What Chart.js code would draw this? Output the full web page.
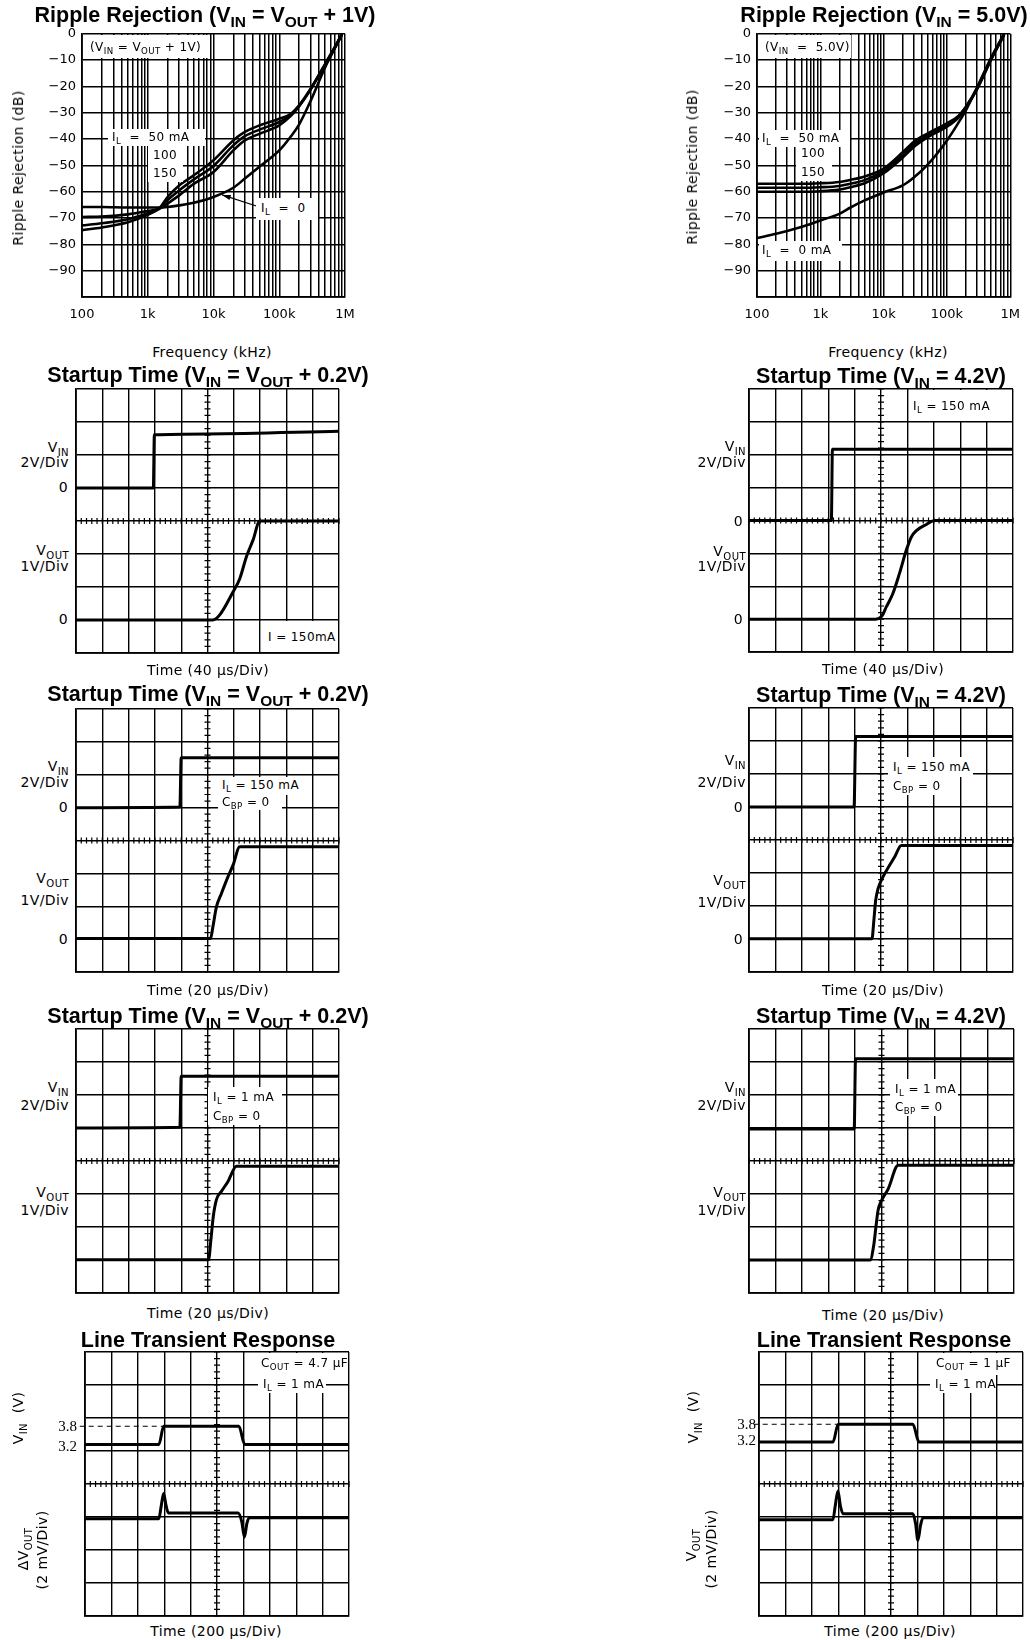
<!DOCTYPE html>
<html>
<head>
<meta charset="utf-8">
<script src="https://cdn.jsdelivr.net/npm/chart.js@4.4.0/dist/chart.umd.min.js"></script>
<style>
  html, body { margin: 0; padding: 0; background: #fff; }
  #page { position: relative; width: 1030px; height: 1640px; overflow: hidden; background: #fff; }
  canvas { position: absolute; }
  .t { position: absolute; white-space: pre; color: #000; line-height: 1; }
  .title { font: bold 21.5px "Liberation Sans", Arial, sans-serif; }
  .lbl { font: 14px "DejaVu Sans", sans-serif; letter-spacing: 0.4px; }
  .note { font: 12px "DejaVu Sans", sans-serif; letter-spacing: 0.4px; }
  .num { font: 15px "Liberation Serif", serif; }
  .wb { position: absolute; background: #fff; }
  sub { font-size: 72%; vertical-align: -0.35em; line-height: 0; }
</style>
</head>
<body>
<div id="page"></div>
<script>
// ripple rejection, V_IN = V_OUT + 1V  (dB vs Hz)
const rr1Freq = [100, 200, 500, 1000, 1500, 2000, 3000, 5000, 10000, 20000, 30000, 50000, 100000, 150000, 200000, 300000, 500000, 700000, 900000];
const rr1IL0 = [-65.8, -65.8, -66, -66, -66, -65.8, -65.2, -64.2, -62, -58.5, -55, -50.5, -44.3, -39, -34.5, -25.5, -12.7, -5.5, 0];
const rr1IL50 = [-69.6, -69.4, -68.6, -67.3, -66.2, -62, -57.6, -53.8, -48, -40.5, -37.3, -34.8, -32.3, -30.4, -27.2, -20.9, -11.4, -5, 0];
const rr1IL100 = [-72.8, -72, -70.5, -68.2, -66.3, -63.2, -59.5, -55.4, -50.2, -42.4, -38.9, -36.4, -33.5, -30.8, -27.4, -21, -11.5, -5.2, -0.2];
const rr1IL150 = [-74.6, -73.6, -71.6, -68.8, -66.5, -64.5, -61.4, -57, -52.5, -44.3, -40.5, -38, -34.8, -31.2, -27.6, -21.2, -11.7, -5.4, -0.4];
const rr1Arrow = [[46000, -65.5], [13500, -61.2]];

// ripple rejection, V_IN = 5.0V
const rr2Freq = [100, 200, 500, 1000, 2000, 3000, 5000, 10000, 20000, 30000, 50000, 100000, 150000, 200000, 300000, 500000, 800000];
const rr2IL0 = [-77.6, -76, -73.4, -70.9, -68.4, -66, -63.3, -60.3, -57.6, -54.6, -49.6, -40.5, -34, -29, -20.3, -9, 0];
const rr2IL50 = [-57, -57, -57, -56.8, -56.3, -55.5, -54.2, -51.2, -45, -41, -37.8, -34, -31.3, -27.6, -20.5, -9.3, 0];
const rr2IL100 = [-58.5, -58.5, -58.5, -58.3, -57.8, -57, -55.6, -52.2, -46, -42, -38.6, -34.7, -31.6, -27.8, -20.8, -9.6, -0.3];
const rr2IL150 = [-60, -60, -60, -59.8, -59.2, -58.3, -56.8, -53, -47, -43, -39.3, -35.3, -32, -28, -21, -9.8, -0.5];

const freqLabelValues = [100, 1000, 10000, 100000, 1000000];
const freqLabels = ['100', '1k', '10k', '100k', '1M'];
const dbTicks = [0, -10, -20, -30, -40, -50, -60, -70, -80, -90, -100];

// scope traces, x and y in screen divisions (10 x 8)
const su1VinT = [0, 2.94, 2.98, 5, 10];
const su1VinV = [5, 5, 6.61, 6.64, 6.72];
const su1VoutT = [0, 5.2, 5.45, 5.97, 6.23, 6.48, 6.73, 6.99, 10];
const su1VoutV = [1, 1, 1.14, 1.85, 2.26, 2.92, 3.42, 4.0, 4.0];

const su2VinT = [0, 3.12, 3.16, 10];
const su2VinV = [4, 4, 6.17, 6.17];
const su2VoutT = [0, 4.8, 5.03, 5.2, 5.45, 5.7, 5.96, 6.15, 6.34, 6.72, 7.03, 10];
const su2VoutV = [1, 1, 1.09, 1.37, 1.78, 2.39, 3.1, 3.5, 3.69, 3.88, 4.0, 4.0];

const su3VinT = [0, 3.95, 4.0, 10];
const su3VinV = [5, 5.02, 6.52, 6.52];
const su3VoutT = [0, 5.12, 5.2, 5.34, 5.53, 5.78, 5.97, 6.23, 10];
const su3VoutV = [1.02, 1.02, 1.35, 1.98, 2.39, 2.9, 3.25, 3.81, 3.81];

const su4VinT = [0, 3.98, 4.04, 10];
const su4VinV = [5, 5, 7.14, 7.14];
const su4VoutT = [0, 4.66, 4.73, 4.8, 4.89, 5.08, 5.33, 5.52, 5.77, 10];
const su4VoutV = [1.01, 1.01, 1.57, 2.18, 2.53, 2.89, 3.24, 3.49, 3.83, 3.83];

const su5VinT = [0, 3.95, 4.0, 10];
const su5VinV = [5, 5.02, 6.57, 6.57];
const su5VoutT = [0, 5.04, 5.13, 5.22, 5.34, 5.53, 5.78, 6.1, 10];
const su5VoutV = [1.01, 1.01, 1.62, 2.32, 2.83, 3.08, 3.38, 3.84, 3.84];

const su6VinT = [0, 3.97, 4.02, 10];
const su6VinV = [4.97, 4.97, 7.1, 7.1];
const su6VoutT = [0, 4.57, 4.71, 4.79, 4.87, 5.0, 5.25, 5.63, 10];
const su6VoutV = [1.0, 1.0, 1.46, 2.0, 2.5, 2.8, 3.15, 3.87, 3.87];

// line transient
const lt1VinT = [0, 2.8, 2.98, 5.83, 6.05, 10];
const lt1VinV = [5.2, 5.2, 5.75, 5.75, 5.2, 5.2];
const lt1VoutT = [0, 2.8, 2.88, 2.98, 3.07, 3.16, 5.8, 5.94, 6.04, 6.13, 6.22, 10];
const lt1VoutV = [2.95, 2.95, 3.3, 3.71, 3.35, 3.12, 3.12, 2.85, 2.39, 2.8, 2.98, 2.98];
const lt1RefT = [-0.2, 2.95];
const lt1RefV = [5.75, 5.75];

const lt2VinT = [0, 2.8, 3.0, 5.83, 6.06, 10];
const lt2VinV = [5.27, 5.27, 5.81, 5.81, 5.27, 5.27];
const lt2VoutT = [0, 2.8, 2.89, 2.99, 3.08, 3.18, 5.83, 5.93, 6.02, 6.12, 6.21, 10];
const lt2VoutV = [2.92, 2.92, 3.35, 3.79, 3.35, 3.1, 3.1, 2.8, 2.29, 2.75, 2.98, 2.98];
const lt2RefT = [-0.2, 2.97];
const lt2RefV = [5.81, 5.81];

const page = document.getElementById('page');

function addCanvas(left, top, w, h) {
  const c = document.createElement('canvas');
  c.width = w; c.height = h;
  c.style.left = left + 'px'; c.style.top = top + 'px';
  c.style.width = w + 'px'; c.style.height = h + 'px';
  page.appendChild(c);
  return c;
}

function text(html, x, y, cls, align) {
  const d = document.createElement('div');
  d.className = 't ' + cls;
  d.innerHTML = html;
  d.style.left = x + 'px';
  d.style.top = y + 'px';
  const tx = align === 'left' ? '0' : align === 'right' ? '-100%' : '-50%';
  d.style.transform = 'translate(' + tx + ',-50%)';
  page.appendChild(d);
  return d;
}

function vtext(html, x, y, cls) {
  const d = text(html, x, y, cls, 'center');
  d.style.transform = 'translate(-50%,-50%) rotate(-90deg)';
  return d;
}

function box(x, y, w, h) {
  const d = document.createElement('div');
  d.className = 'wb';
  d.style.left = x + 'px'; d.style.top = y + 'px';
  d.style.width = w + 'px'; d.style.height = h + 'px';
  page.appendChild(d);
}

const pts = (xs, ys) => xs.map((x, i) => ({ x: x, y: ys[i] }));

const gridFreqs = [];
for (let e = 2; e < 6; e++) {
  for (let m = 1; m < 10; m++) gridFreqs.push(m * Math.pow(10, e));
}
gridFreqs.push(1000000);

const arrowPlugin = {
  id: 'arrow',
  afterDatasetsDraw(chart) {
    const { ctx, scales: { x, y } } = chart;
    const x0 = x.getPixelForValue(rr1Arrow[0][0]), y0 = y.getPixelForValue(rr1Arrow[0][1]);
    const x1 = x.getPixelForValue(rr1Arrow[1][0]), y1 = y.getPixelForValue(rr1Arrow[1][1]);
    const a = Math.atan2(y1 - y0, x1 - x0);
    ctx.save();
    ctx.strokeStyle = '#000'; ctx.fillStyle = '#000'; ctx.lineWidth = 1.2;
    ctx.beginPath(); ctx.moveTo(x0, y0); ctx.lineTo(x1, y1); ctx.stroke();
    ctx.beginPath();
    ctx.moveTo(x1, y1);
    ctx.lineTo(x1 - 9 * Math.cos(a - 0.3), y1 - 9 * Math.sin(a - 0.3));
    ctx.lineTo(x1 - 9 * Math.cos(a + 0.3), y1 - 9 * Math.sin(a + 0.3));
    ctx.closePath(); ctx.fill();
    ctx.restore();
  }
};

function ripple(plot, cb, freq, curves, plugins) {
  const cv = addCanvas(cb.l, cb.t, cb.w, cb.h);
  const yW = plot.l - cb.l;
  const xH = cb.t + cb.h - plot.b;
  return new Chart(cv, {
    type: 'line',
    data: {
      datasets: curves.map(c => ({
        label: c.label,
        data: pts(freq, c.values),
        borderColor: '#000',
        borderWidth: 2.6,
        pointRadius: 0,
        cubicInterpolationMode: 'monotone',
        fill: false
      }))
    },
    options: {
      responsive: false, animation: false, devicePixelRatio: 1, events: [],
      layout: { padding: { top: plot.t - cb.t, right: cb.l + cb.w - plot.r, left: 0, bottom: 0 } },
      plugins: { legend: { display: false }, tooltip: { enabled: false } },
      scales: {
        x: {
          type: 'logarithmic', min: 100, max: 1000000,
          afterBuildTicks: s => { s.ticks = gridFreqs.map(v => ({ value: v })); },
          afterFit: s => { s.height = xH; },
          ticks: {
            autoSkip: false, maxRotation: 0, minRotation: 0, padding: 10, color: '#000',
            font: { family: 'DejaVu Sans', size: 13 },
            callback: v => {
              const i = freqLabelValues.indexOf(Math.round(v));
              return i < 0 ? '' : freqLabels[i];
            }
          },
          grid: { color: '#000', lineWidth: 1.5, drawTicks: false },
          border: { color: '#000', width: 1.8 }
        },
        y: {
          min: -100, max: 0,
          afterBuildTicks: s => { s.ticks = dbTicks.map(v => ({ value: v })); },
          afterFit: s => { s.width = yW; },
          ticks: {
            padding: 6, color: '#000',
            font: { family: 'DejaVu Sans', size: 13 },
            callback: v => v === -100 ? '' : (v === 0 ? '0' : '\u2212' + Math.abs(v))
          },
          grid: { color: '#000', lineWidth: 1.5, drawTicks: false },
          border: { color: '#000', width: 1.8 }
        }
      }
    },
    plugins: plugins || []
  });
}

// little marks along the centre axes of the scope graticule
const centerTicks = {
  id: 'centerTicks',
  beforeDatasetsDraw(chart) {
    const { ctx, scales: { x, y } } = chart;
    const cx = x.getPixelForValue(5), cy = y.getPixelForValue(4);
    ctx.save();
    ctx.strokeStyle = '#000'; ctx.lineWidth = 1.2;
    ctx.beginPath();
    for (let k = 0; k <= 40; k++) {
      const py = y.getPixelForValue(k * 0.2);
      ctx.moveTo(cx - 3, py); ctx.lineTo(cx + 3, py);
    }
    for (let k = 0; k <= 50; k++) {
      const px = x.getPixelForValue(k * 0.2);
      ctx.moveTo(px, cy - 3); ctx.lineTo(px, cy + 3);
    }
    ctx.stroke();
    ctx.restore();
  }
};

function scope(plot, traces, padLeft) {
  const pad = 4, pl = padLeft || 4;
  const cv = addCanvas(plot.l - pl, plot.t - pad, plot.r - plot.l + pl + pad, plot.b - plot.t + 2 * pad);
  return new Chart(cv, {
    type: 'line',
    data: {
      datasets: traces.map(tr => ({
        data: pts(tr.t, tr.v),
        borderColor: '#000',
        borderWidth: tr.dash ? 1 : 3,
        borderDash: tr.dash || [],
        pointRadius: 0,
        cubicInterpolationMode: tr.dash ? 'default' : 'monotone',
        tension: 0,
        clip: tr.dash ? false : 0,
        fill: false
      }))
    },
    options: {
      responsive: false, animation: false, devicePixelRatio: 1, events: [],
      layout: { padding: { top: pad, right: pad, bottom: pad, left: pl } },
      plugins: { legend: { display: false }, tooltip: { enabled: false } },
      scales: {
        x: {
          type: 'linear', min: 0, max: 10,
          ticks: { display: false, stepSize: 1 },
          afterFit: s => { s.height = 0; },
          grid: { color: '#000', lineWidth: 1.4, drawTicks: false },
          border: { color: '#000', width: 1.8 }
        },
        y: {
          min: 0, max: 8,
          ticks: { display: false, stepSize: 1 },
          afterFit: s => { s.width = 0; },
          grid: { color: '#000', lineWidth: 1.4, drawTicks: false },
          border: { color: '#000', width: 1.8 }
        }
      }
    },
    plugins: [centerTicks]
  });
}

// ---------- row 1: ripple rejection ----------
ripple({ l: 82, t: 33, r: 345, b: 297 }, { l: 0, t: 20, w: 365, h: 312 }, rr1Freq, [
  { label: 'IL = 0', values: rr1IL0 },
  { label: 'IL = 50 mA', values: rr1IL50 },
  { label: 'IL = 100 mA', values: rr1IL100 },
  { label: 'IL = 150 mA', values: rr1IL150 }
], [arrowPlugin]);
ripple({ l: 757, t: 33, r: 1021, b: 297 }, { l: 675, t: 20, w: 355, h: 312 }, rr2Freq, [
  { label: 'IL = 0 mA', values: rr2IL0 },
  { label: 'IL = 50 mA', values: rr2IL50 },
  { label: 'IL = 100 mA', values: rr2IL100 },
  { label: 'IL = 150 mA', values: rr2IL150 }
]);

text('Ripple Rejection (V<sub>IN</sub> = V<sub>OUT</sub> + 1V)', 205, 14.5, 'title', 'center');
text('Ripple Rejection (V<sub>IN</sub> = 5.0V)', 884, 14.5, 'title', 'center');
vtext('Ripple Rejection (dB)', 18, 168, 'lbl');
vtext('Ripple Rejection (dB)', 692, 167, 'lbl');
text('Frequency (kHz)', 212, 352, 'lbl', 'center');
text('Frequency (kHz)', 888, 352, 'lbl', 'center');

box(84, 35, 126, 23);
text('(V<sub>IN</sub> = V<sub>OUT</sub> + 1V)', 90, 47, 'note', 'left');
box(108, 129, 97, 17);
text('I<sub>L</sub>  =  50 mA', 112, 137, 'note', 'left');
box(148, 146, 35, 36);
text('100', 165, 155, 'note', 'center');
text('150', 165, 173, 'note', 'center');
box(256, 198, 62, 22);
text('I<sub>L</sub>  =  0', 261, 208, 'note', 'left');

box(759, 35, 92, 23);
text('(V<sub>IN</sub>  =  5.0V)', 765, 47, 'note', 'left');
box(759, 130, 91, 17);
text('I<sub>L</sub>  =  50 mA', 762, 138, 'note', 'left');
box(796, 146, 36, 35);
text('100', 813, 153, 'note', 'center');
text('150', 813, 172, 'note', 'center');
box(759, 241, 83, 20);
text('I<sub>L</sub>  =  0 mA', 762, 250, 'note', 'left');

// ---------- rows 2-4: startup time ----------
scope({ l: 76, t: 389, r: 339, b: 653 }, [{ t: su1VinT, v: su1VinV }, { t: su1VoutT, v: su1VoutV }]);
scope({ l: 749, t: 389, r: 1013, b: 652 }, [{ t: su2VinT, v: su2VinV }, { t: su2VoutT, v: su2VoutV }]);
scope({ l: 76, t: 709, r: 339, b: 972 }, [{ t: su3VinT, v: su3VinV }, { t: su3VoutT, v: su3VoutV }]);
scope({ l: 749, t: 708, r: 1013, b: 972 }, [{ t: su4VinT, v: su4VinV }, { t: su4VoutT, v: su4VoutV }]);
scope({ l: 76, t: 1029, r: 339, b: 1293 }, [{ t: su5VinT, v: su5VinV }, { t: su5VoutT, v: su5VoutV }]);
scope({ l: 749, t: 1029, r: 1014, b: 1293 }, [{ t: su6VinT, v: su6VinV }, { t: su6VoutT, v: su6VoutV }]);

const tA = 'Startup Time (V<sub>IN</sub> = V<sub>OUT</sub> + 0.2V)';
const tB = 'Startup Time (V<sub>IN</sub> = 4.2V)';
text(tA, 208, 375, 'title', 'center');
text(tB, 881, 375.5, 'title', 'center');
text(tA, 208, 694, 'title', 'center');
text(tB, 881, 694.5, 'title', 'center');
text(tA, 208, 1016, 'title', 'center');
text(tB, 881, 1016, 'title', 'center');

// side labels
text('V<sub>IN</sub>', 69, 447, 'lbl', 'right');
text('2V/Div', 69, 462, 'lbl', 'right');
text('0', 68, 487, 'lbl', 'right');
text('V<sub>OUT</sub>', 69, 550, 'lbl', 'right');
text('1V/Div', 69, 566, 'lbl', 'right');
text('0', 68, 619, 'lbl', 'right');

text('V<sub>IN</sub>', 746, 446, 'lbl', 'right');
text('2V/Div', 746, 462, 'lbl', 'right');
text('0', 743, 521, 'lbl', 'right');
text('V<sub>OUT</sub>', 746, 551, 'lbl', 'right');
text('1V/Div', 746, 566, 'lbl', 'right');
text('0', 743, 619, 'lbl', 'right');

text('V<sub>IN</sub>', 69, 766, 'lbl', 'right');
text('2V/Div', 69, 782, 'lbl', 'right');
text('0', 68, 807, 'lbl', 'right');
text('V<sub>OUT</sub>', 69, 878, 'lbl', 'right');
text('1V/Div', 69, 900, 'lbl', 'right');
text('0', 68, 939, 'lbl', 'right');

text('V<sub>IN</sub>', 746, 760, 'lbl', 'right');
text('2V/Div', 746, 782, 'lbl', 'right');
text('0', 743, 807, 'lbl', 'right');
text('V<sub>OUT</sub>', 746, 880, 'lbl', 'right');
text('1V/Div', 746, 902, 'lbl', 'right');
text('0', 743, 939, 'lbl', 'right');

text('V<sub>IN</sub>', 69, 1087, 'lbl', 'right');
text('2V/Div', 69, 1105, 'lbl', 'right');
text('V<sub>OUT</sub>', 69, 1192, 'lbl', 'right');
text('1V/Div', 69, 1210, 'lbl', 'right');

text('V<sub>IN</sub>', 746, 1087, 'lbl', 'right');
text('2V/Div', 746, 1105, 'lbl', 'right');
text('V<sub>OUT</sub>', 746, 1192, 'lbl', 'right');
text('1V/Div', 746, 1210, 'lbl', 'right');

text('Time (40 \u03bcs/Div)', 208, 670, 'lbl', 'center');
text('Time (40 \u03bcs/Div)', 883, 669, 'lbl', 'center');
text('Time (20 \u03bcs/Div)', 208, 990, 'lbl', 'center');
text('Time (20 \u03bcs/Div)', 883, 990, 'lbl', 'center');
text('Time (20 \u03bcs/Div)', 208, 1313, 'lbl', 'center');
text('Time (20 \u03bcs/Div)', 883, 1315, 'lbl', 'center');

// in-plot notes
box(263, 621, 75, 31);
text('I = 150mA', 268, 637, 'note', 'left');
box(910, 390, 78, 31);
text('I<sub>L</sub> = 150 mA', 913, 406, 'note', 'left');

box(218, 777, 84, 18);
text('I<sub>L</sub> = 150 mA', 222, 785, 'note', 'left');
box(218, 795, 64, 15);
text('C<sub>BP</sub> = 0', 222, 802, 'note', 'left');

box(888, 757, 85, 20);
text('I<sub>L</sub> = 150 mA', 893, 767, 'note', 'left');
box(888, 777, 58, 18);
text('C<sub>BP</sub> = 0', 893, 786, 'note', 'left');

box(208, 1087, 74, 19);
text('I<sub>L</sub> = 1 mA', 213, 1097, 'note', 'left');
box(208, 1106, 64, 19);
text('C<sub>BP</sub> = 0', 213, 1116, 'note', 'left');

box(890, 1079, 68, 19);
text('I<sub>L</sub> = 1 mA', 895, 1089, 'note', 'left');
box(890, 1098, 60, 18);
text('C<sub>BP</sub> = 0', 895, 1107, 'note', 'left');

// ---------- row 5: line transient ----------
scope({ l: 85, t: 1352, r: 349, b: 1616 }, [
  { t: lt1RefT, v: lt1RefV, dash: [5, 4] },
  { t: lt1VinT, v: lt1VinV }, { t: lt1VoutT, v: lt1VoutV }
], 10);
scope({ l: 759, t: 1352, r: 1023, b: 1616 }, [
  { t: lt2RefT, v: lt2RefV, dash: [5, 4] },
  { t: lt2VinT, v: lt2VinV }, { t: lt2VoutT, v: lt2VoutV }
], 10);

text('Line Transient Response', 208, 1340, 'title', 'center');
text('Line Transient Response', 884, 1340, 'title', 'center');

text('3.8', 77, 1426, 'num', 'right');
text('3.2', 77, 1446, 'num', 'right');
text('3.8', 756, 1424, 'num', 'right');
text('3.2', 756, 1440, 'num', 'right');

vtext('V<sub>IN</sub>  (V)', 18, 1418, 'lbl');
vtext('\u0394V<sub>OUT</sub>', 23, 1549, 'lbl');
vtext('(2 mV/Div)', 42, 1550, 'lbl');
vtext('V<sub>IN</sub>  (V)', 693, 1417, 'lbl');
vtext('V<sub>OUT</sub>', 691, 1545, 'lbl');
vtext('(2 mV/Div)', 711, 1549, 'lbl');

text('Time (200 \u03bcs/Div)', 216, 1631, 'lbl', 'center');
text('Time (200 \u03bcs/Div)', 890, 1631, 'lbl', 'center');

box(258, 1353, 90, 22);
text('C<sub>OUT</sub> = 4.7 \u03bcF', 261, 1363, 'note', 'left');
box(258, 1375, 68, 18);
text('I<sub>L</sub> = 1 mA', 263, 1384, 'note', 'left');

box(930, 1353, 73, 22);
text('C<sub>OUT</sub> = 1 \u03bcF', 936, 1363, 'note', 'left');
box(930, 1375, 66, 18);
text('I<sub>L</sub> = 1 mA', 935, 1384, 'note', 'left');
</script>
</body>
</html>
